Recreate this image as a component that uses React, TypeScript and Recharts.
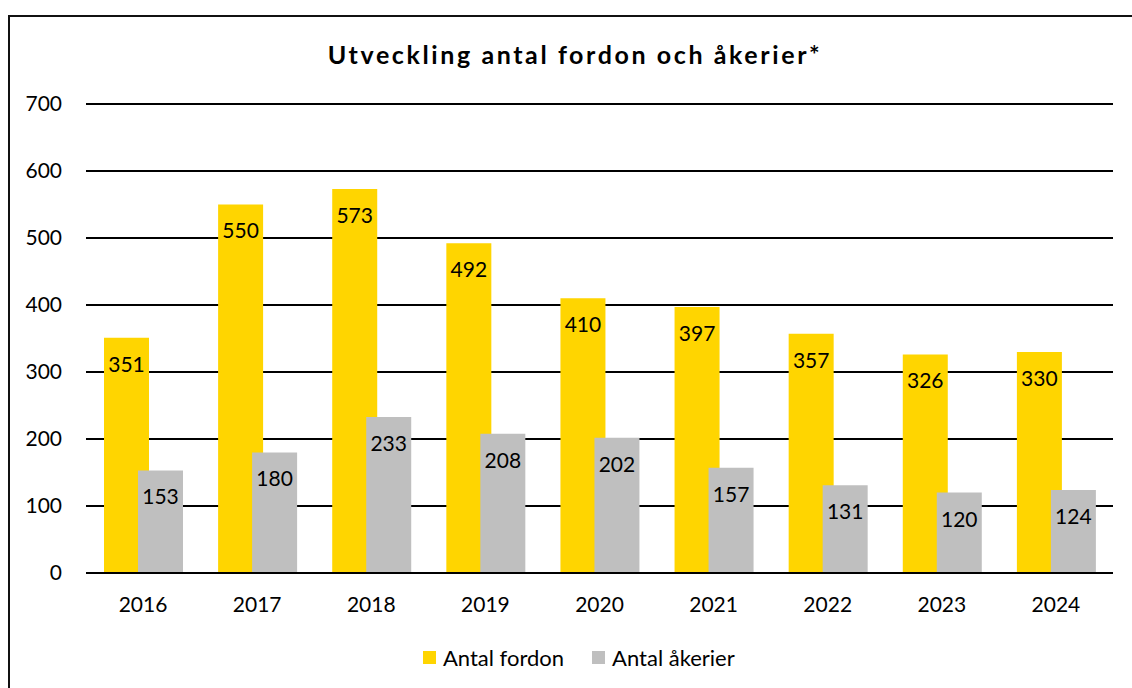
import React from 'react';
import { BarChart, Bar, XAxis, YAxis, CartesianGrid, LabelList } from 'recharts';

const years = ['2016', '2017', '2018', '2019', '2020', '2021', '2022', '2023', '2024'];
const fordon = [351, 550, 573, 492, 410, 397, 357, 326, 330];
const akerier = [153, 180, 233, 208, 202, 157, 131, 120, 124];
const yTicks = [0, 100, 200, 300, 400, 500, 600, 700];

const YELLOW = '#FFD500';
const GREY = '#BFBFBF';
const FONT = 'Lato, "Open Sans", sans-serif';

const data = years.map((year, i) => ({ year, fordon: fordon[i], akerier: akerier[i] }));

const series = [
  { key: 'fordon', name: 'Antal fordon', color: YELLOW },
  { key: 'akerier', name: 'Antal åkerier', color: GREY },
];

export default function App() {
  return (
    <div
      style={{
        position: 'fixed',
        top: 15,
        left: 8,
        width: 1124,
        height: 673,
        borderTop: '2px solid #111',
        borderLeft: '2px solid #111',
        background: '#fff',
        fontFamily: FONT,
      }}
    >
      <div
        style={{
          position: 'absolute',
          top: 22,
          left: 4,
          width: 1122,
          textAlign: 'center',
          fontSize: 25,
          fontWeight: 700,
          letterSpacing: 2.6,
          color: '#000',
        }}
      >
        Utveckling antal fordon och åkerier*
      </div>
      <BarChart
        width={1122}
        height={671}
        data={data}
        margin={{ top: 87, right: 19, left: 0, bottom: 85 }}
        barSize={45}
        barGap={-11}
      >
        <CartesianGrid vertical={false} stroke="#000" strokeWidth={2} />
        <XAxis
          dataKey="year"
          height={30}
          axisLine={{ stroke: '#000', strokeWidth: 2 }}
          tickLine={false}
          tickSize={0}
          tickMargin={24}
          tick={{ fill: '#000', fontSize: 21, fontFamily: FONT }}
        />
        <YAxis
          width={76}
          domain={[0, 700]}
          ticks={yTicks}
          axisLine={false}
          tickLine={false}
          tickSize={0}
          tickMargin={24}
          tick={{ fill: '#000', fontSize: 21, fontFamily: FONT }}
        />
        {series.map((s) => (
          <Bar key={s.key} dataKey={s.key} name={s.name} fill={s.color} isAnimationActive={false}>
            <LabelList dataKey={s.key} position="insideTop" offset={19} fill="#000" fontSize={21} fontFamily={FONT} />
          </Bar>
        ))}
      </BarChart>
      <div
        style={{
          position: 'absolute',
          top: 627,
          left: 413,
          display: 'flex',
          alignItems: 'center',
          fontSize: 22,
          color: '#000',
        }}
      >
        {series.map((s, i) => (
          <div key={s.key} style={{ display: 'flex', alignItems: 'center', marginLeft: i === 0 ? 0 : 28 }}>
            <span style={{ display: 'inline-block', width: 13, height: 13, background: s.color, marginRight: 7 }} />
            <span>{s.name}</span>
          </div>
        ))}
      </div>
    </div>
  );
}
